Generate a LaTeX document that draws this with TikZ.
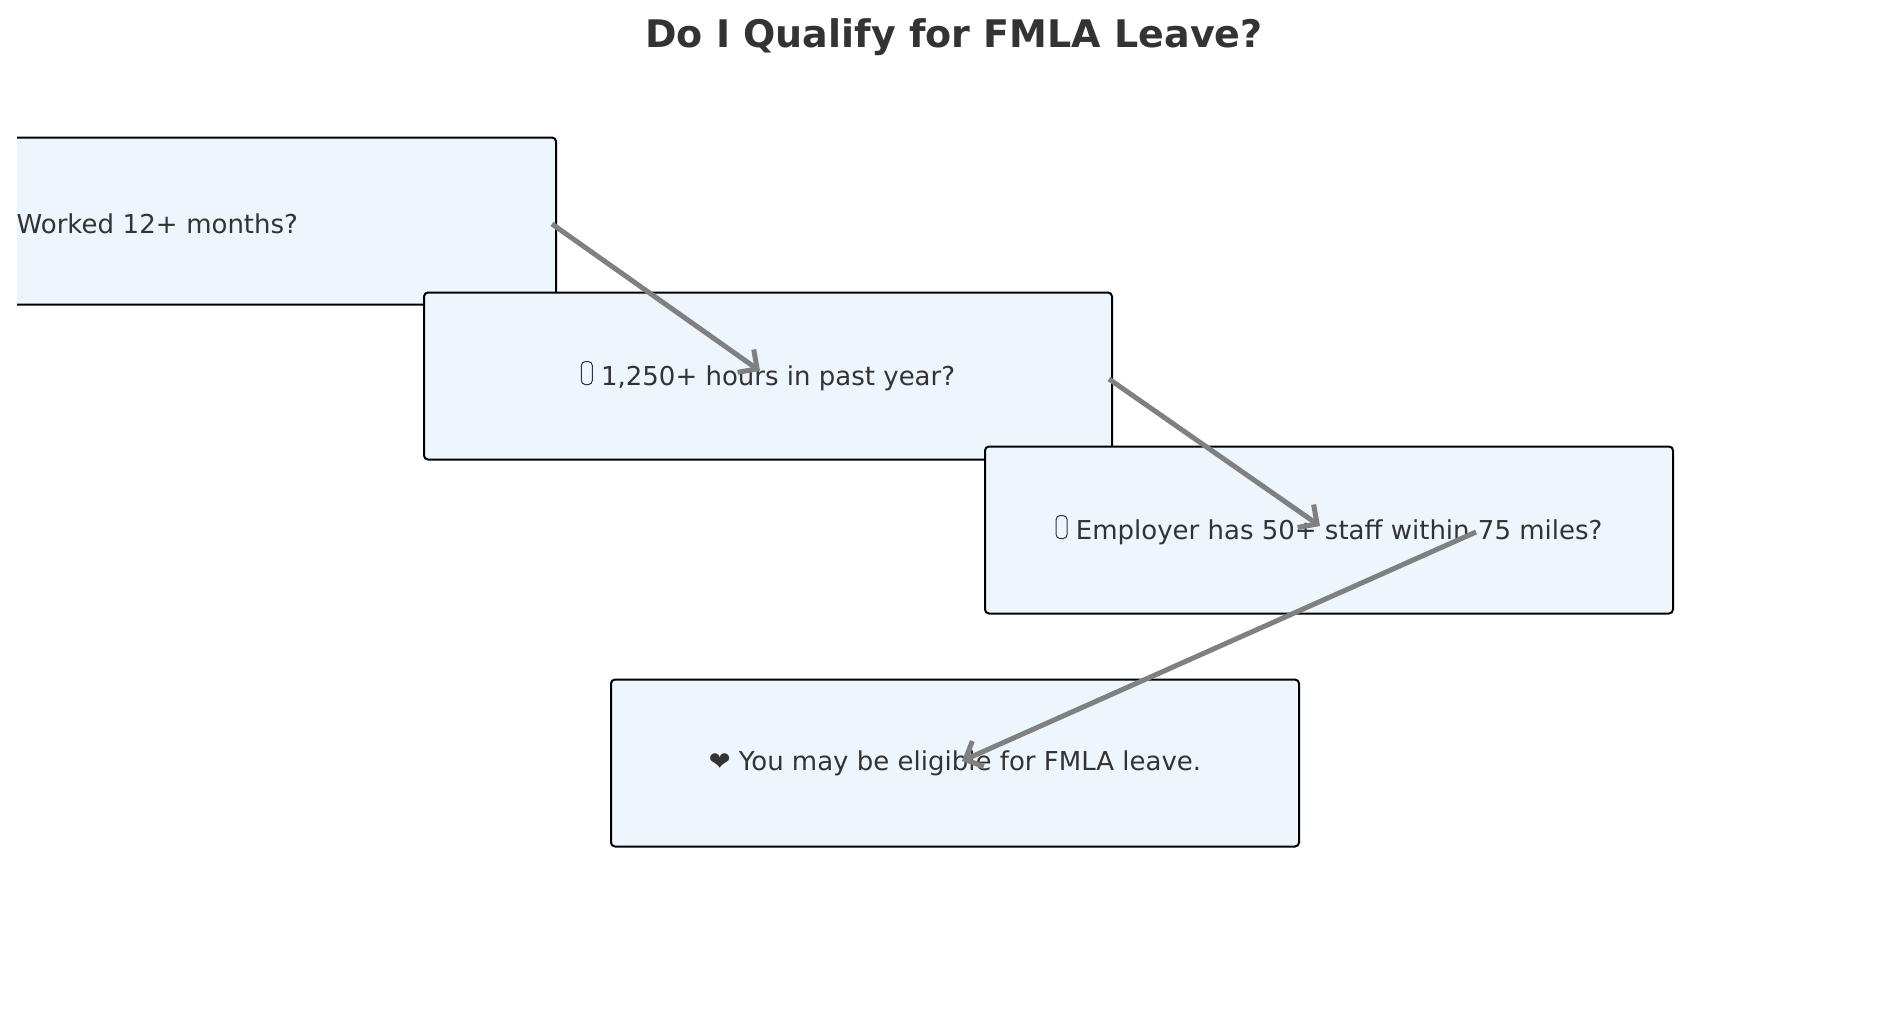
\documentclass[tikz,border=0pt]{standalone}
\usepackage{fontspec}
\setmainfont{DejaVu Sans}
\usetikzlibrary{calc,arrows.meta}
\definecolor{boxfill}{HTML}{EEF6FD}
\definecolor{txt}{HTML}{333333}
\newcommand{\tofu}{\tikz[baseline=-1pt]\draw[line width=1pt,txt] (0,0) rectangle (11pt,23pt);}
\tikzset{
  qbox/.style={draw=black,line width=2pt,fill=boxfill,rounded corners=4pt,minimum width=688pt,minimum height=167pt,font=\fontsize{26}{30}\selectfont,text=txt},
  conn/.style={draw=gray,line width=5pt,-{Straight Barb[length=14pt,width=28pt,line width=5pt]}}
}
\begin{document}
\begin{tikzpicture}[x=1pt,y=-1pt]
\useasboundingbox (0,0) rectangle (1900,1010);
\node[font=\bfseries\fontsize{38}{44}\selectfont,text=txt] (title) at (954,37) {Do I Qualify for FMLA Leave?};
\begin{scope}
\clip (17,0) rectangle (1900,1010);
\node[qbox,minimum width=580pt,text width=540pt,align=left] (b1) at (266,221) {\tofu\ Worked 12+ months?};
\end{scope}
\node[qbox] (b2) at (768,376) {\tofu\ 1,250+ hours in past year?};
\node[qbox] (b3) at (1329,530) {\tofu\ Employer has 50+ staff within 75 miles?};
\node[qbox] (b4) at (955,763) {❤ You may be eligible for FMLA leave.};
\draw[conn] ($(b1.east)+(-5,3)$) -- ($(b2.center)+(-8,-5)$);
\draw[conn] ($(b2.east)+(-4,3)$) -- ($(b3.center)+(-9,-4)$);
\draw[conn] ($(b3.center)+(147,2)$) -- ($(b4.center)+(7,-2)$);
\end{tikzpicture}
\end{document}
